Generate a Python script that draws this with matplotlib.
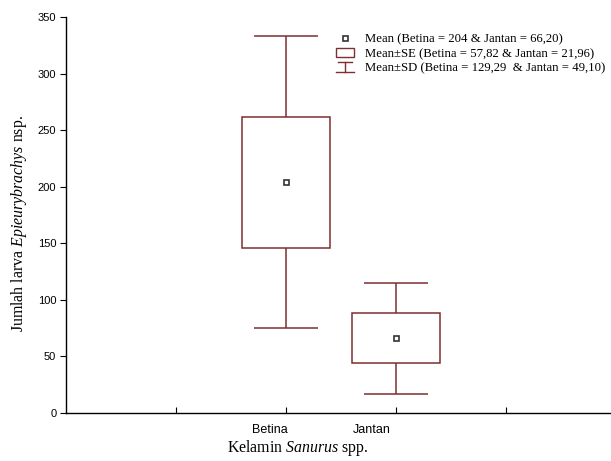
import matplotlib
matplotlib.use('Agg')
import matplotlib.pyplot as plt
import matplotlib.transforms as mtransforms
from matplotlib.legend_handler import HandlerBase
from matplotlib.lines import Line2D
from matplotlib.patches import Rectangle, Patch

# ---- data ----
categories = ['Betina', 'Jantan']
means = [204, 66.20]
se = [57.82, 21.96]
sd = [129.29, 49.10]
yticks = [0, 50, 100, 150, 200, 250, 300, 350]
legend_labels = ['Mean (Betina = 204 & Jantan = 66,20)',
                 'Mean\u00b1SE (Betina = 57,82 & Jantan = 21,96)',
                 'Mean\u00b1SD (Betina = 129,29  & Jantan = 49,10)']

positions = [2, 3]
color = '#7d2f31'
W, H = 611, 461

plt.rcParams['font.family'] = ['Liberation Sans', 'DejaVu Sans']
plt.rcParams['mathtext.fontset'] = 'custom'
plt.rcParams['mathtext.rm'] = 'Liberation Serif'
plt.rcParams['mathtext.it'] = 'Liberation Serif:italic'

fig = plt.figure(figsize=(W / 100, H / 100), dpi=100)
ax = fig.add_axes([66 / W, 48 / H, (W - 66) / W, 396 / H])

ax.errorbar(positions, means, yerr=sd, fmt='none', ecolor=color,
            elinewidth=1.1, capsize=22.7, capthick=1.1, zorder=2)
ax.bar(positions, [2 * s for s in se],
       bottom=[m - s for m, s in zip(means, se)], width=0.8,
       facecolor='white', edgecolor=color, linewidth=1.1, zorder=3)
ax.plot(positions, means, 's', ms=3.6, mfc='white', mec='#333333',
        mew=1.2, zorder=4, linestyle='none')

ax.set_xlim(0, (W - 66) / 110)
ax.set_ylim(0, 350)
ax.set_yticks(yticks)
ax.set_xticks([1, 2, 3, 4])
ax.set_xticklabels(['', categories[0], categories[1], ''])
for sp in ['top', 'right']:
    ax.spines[sp].set_visible(False)
for sp in ['left', 'bottom']:
    ax.spines[sp].set_linewidth(1.0)
    ax.spines[sp].set_color('black')
ax.tick_params(axis='y', direction='out', length=4, labelsize=8, pad=3)
ax.tick_params(axis='x', direction='in', length=4, labelsize=9, pad=8)
offs = [0, -16, -24, 0]
for lab, o in zip(ax.get_xticklabels(), offs):
    lab.set_transform(lab.get_transform() +
                      mtransforms.ScaledTranslation(o / 100, 0, fig.dpi_scale_trans))

fig.text(298 / W, 1 - 448 / H, r'Kelamin $\it{Sanurus}$ spp.', ha='center', va='center',
         fontsize=11.4, family='Liberation Serif')
fig.text(19 / W, 1 - 224 / H, r'Jumlah larva $\it{Epieurybrachys}$ nsp.', ha='center',
         va='center', rotation=90, fontsize=11.4, family='Liberation Serif')


class SDHandler(HandlerBase):
    def create_artists(self, legend, orig_handle, xdescent, ydescent,
                       width, height, fontsize, trans):
        cx = width / 2 - xdescent
        y0 = -ydescent
        y1 = height - ydescent
        w = width * 0.5
        arts = [Line2D([cx, cx], [y0, y1]),
                Line2D([cx - w * 0.8, cx + w * 0.8], [y1, y1]),
                Line2D([cx - w, cx + w], [y0, y0])]
        for a in arts:
            a.set_color(color)
            a.set_linewidth(1.0)
            a.set_transform(trans)
        return arts


class SEHandler(HandlerBase):
    def create_artists(self, legend, orig_handle, xdescent, ydescent,
                       width, height, fontsize, trans):
        r = Rectangle((-xdescent, -ydescent), width, height,
                      facecolor='white', edgecolor=color, linewidth=1.0, transform=trans)
        return [r]


h_mean = Line2D([], [], marker='s', ms=3.6, mfc='white', mec='#333333', mew=1.2, linestyle='none')
h_se = Patch()
h_sd = Patch(label='sd')
leg = ax.legend([h_mean, h_se, h_sd], legend_labels,
                handler_map={h_se: SEHandler(), h_sd: SDHandler()},
                loc='upper left', bbox_to_anchor=(336 / W, 1 - 33 / H),
                bbox_transform=fig.transFigure, frameon=False,
                prop={'family': 'Liberation Serif', 'size': 9.2},
                handlelength=1.4, handleheight=0.8, handletextpad=0.85,
                labelspacing=0.18, borderpad=0, borderaxespad=0)

fig.savefig('out.png', dpi=100)
